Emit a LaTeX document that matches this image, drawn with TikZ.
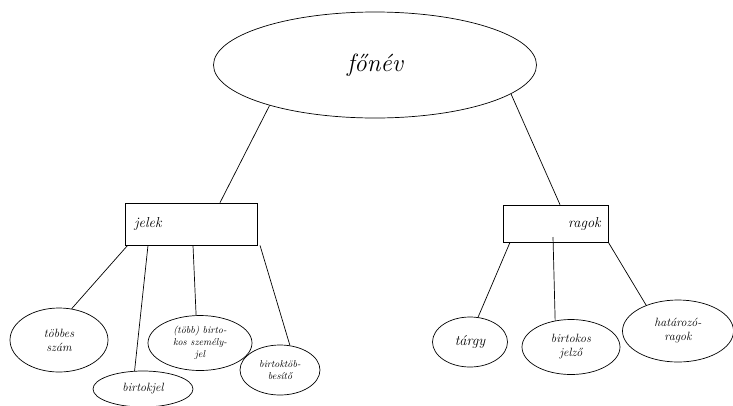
\documentclass[tikz,border=0pt]{standalone}
\usetikzlibrary{shapes.geometric}
\begin{document}
\begin{tikzpicture}[x=1pt,y=-1pt,
  every path/.style={line width=0.7pt},
  hand/.style={font=\itshape\Large},
  oval/.style={draw,ellipse,inner sep=0pt,align=center,font=\itshape\normalsize},
  rect/.style={draw,rectangle,inner sep=0pt}]
\useasboundingbox (0,0) rectangle (733,405);
\node[draw,ellipse,minimum width=323,minimum height=106,inner sep=0pt,font=\itshape\Huge] (fonev) at (375,65) {főnév};
\node[rect,minimum width=132,minimum height=42] (jelek) at (191,224) {};
\node[hand,anchor=west] at (jelek.west) [xshift=6pt] {jelek};
\node[rect,minimum width=105,minimum height=37] (ragok) at (555.5,223.5) {};
\node[hand,anchor=east] at (ragok.east) [xshift=-4pt] {ragok};
% jelek children
\node[oval,minimum width=98,minimum height=64,font=\itshape\large] (tobbes) at (59,340) {többes\\szám};
\node[oval,minimum width=100,minimum height=36,font=\itshape\large] (birtokjel) at (143,389) {birtokjel};
\node[oval,minimum width=104,minimum height=55] (szemely) at (200,343) {(több) birto-\\kos személy-\\jel};
\node[oval,minimum width=80,minimum height=50] (bt) at (280,370) {birtoktöb-\\besítő};
% ragok children
\node[oval,minimum width=75,minimum height=50,font=\itshape\Large] (targy) at (470,342) {tárgy};
\node[oval,minimum width=98,minimum height=55,font=\itshape\large] (bj) at (571,347) {birtokos\\jelző};
\node[oval,minimum width=111,minimum height=62,font=\itshape\large] (hat) at (678,331) {határozó-\\ragok};
% connectors
\draw (fonev.201) -- (jelek.north -| 220,0);
\draw (fonev.348) -- (ragok.north -| 560,0);
\draw (jelek.south west) ++(3,0) -- (tobbes.68);
\draw (jelek.south -| 148,0) -- (birtokjel.115);
\draw (jelek.south -| 193,0) -- (szemely.98);
\draw (jelek.south -| 260,0) -- (bt.68);
\draw (ragok.south -| 510,0) -- (targy.72);
\draw (553,237) -- (bj.121);
\draw (ragok.south east) -- (hat.141);
\end{tikzpicture}
\end{document}
